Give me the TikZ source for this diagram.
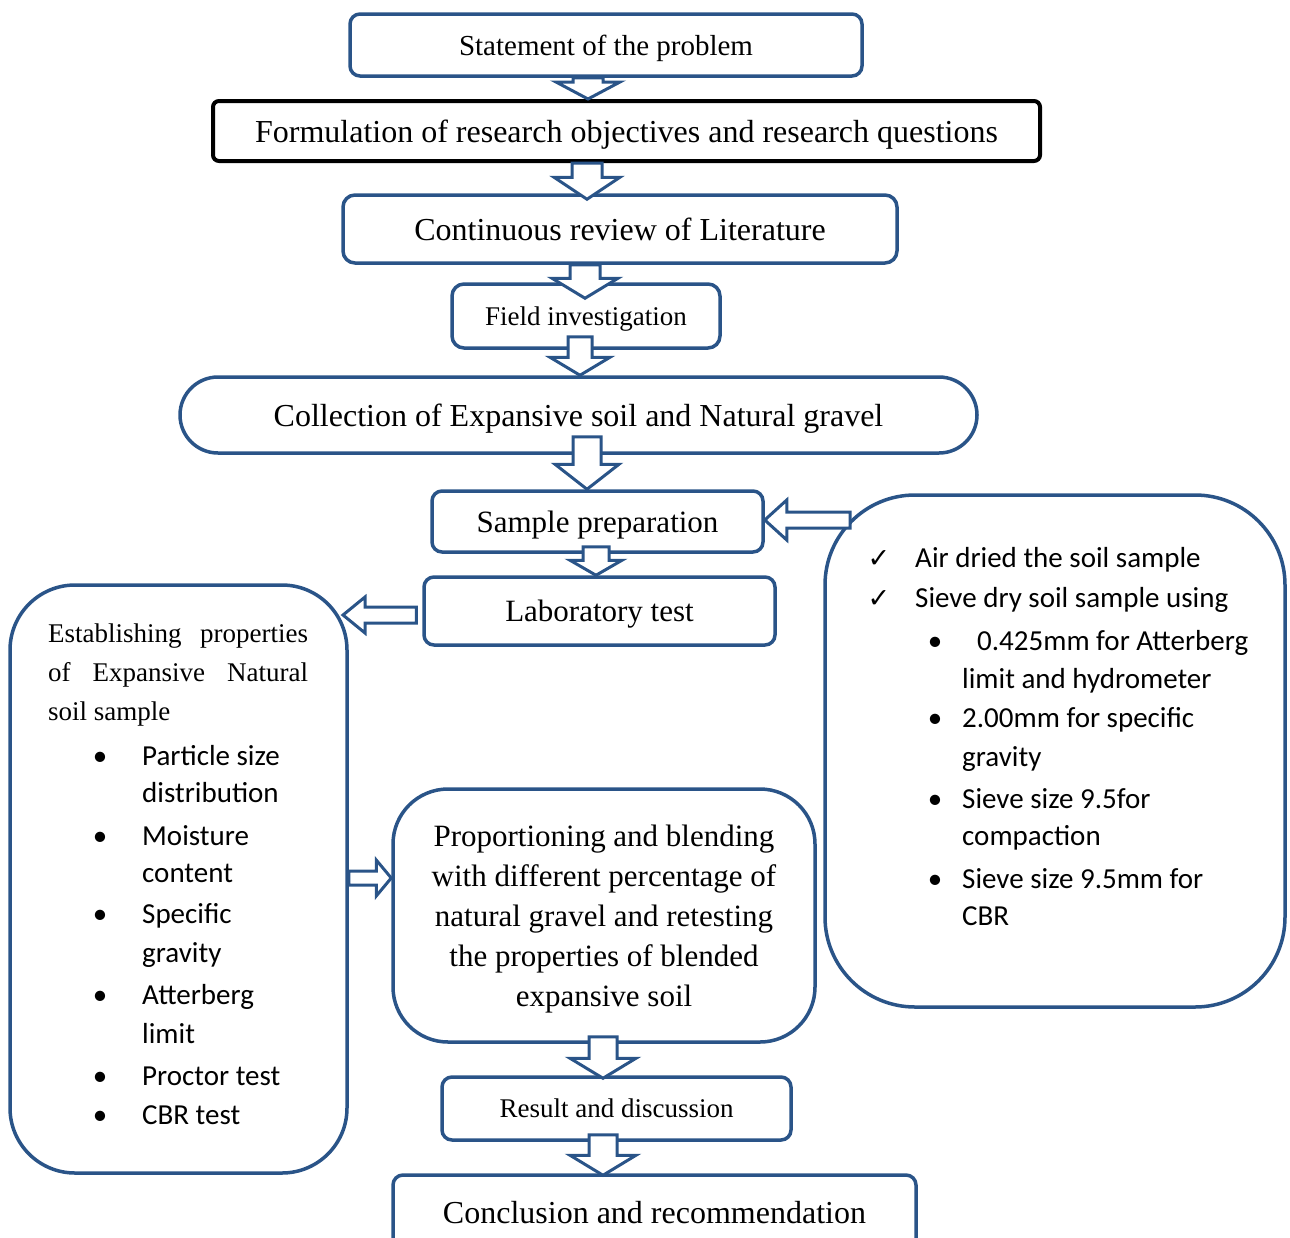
\documentclass[tikz,border=0pt]{standalone}
\usepackage{fontspec}
\setmainfont{Liberation Serif}
\newfontfamily\calib{Carlito}
\newfontfamily\symb{DejaVu Sans}
\usetikzlibrary{calc}
\hyphenpenalty=10000
\setlength\parindent{0pt}
\definecolor{boxblue}{RGB}{42,84,136}
\newcommand{\setfs}[2]{\fontsize{#1}{#2}\selectfont}
\tikzset{
 bluebox/.style={draw=boxblue, line width=3.5pt, rounded corners=10pt, inner sep=0pt, text depth=0pt, fill=white},
 blackbox/.style={draw=black, line width=4pt, rounded corners=6pt, inner sep=0pt, text depth=0pt, fill=white},
 arrowline/.style={draw=boxblue, line width=3pt, fill=white, line join=miter},
 listtxt/.style={anchor=base west, inner sep=0pt, font=\calib\setfs{29}{29}},
 dot/.style={anchor=base, inner sep=0pt, font=\calib\setfs{29}{29}},
 tick/.style={anchor=base, inner sep=0pt, font=\symb\setfs{27}{27}},
}
% hollow block arrow: shaft half width, head half width, head length, start, tip
\newcommand{\hollowarrow}[5]{%
 \coordinate (ha-s) at #4;
 \coordinate (ha-t) at #5;
 \coordinate (ha-b) at ($(ha-t)!#3pt!(ha-s)$);
 \draw[arrowline] ($(ha-s)!#1pt!90:(ha-t)$) -- ($(ha-b)!#1pt!90:(ha-t)$)
  -- ($(ha-b)!#2pt!90:(ha-t)$) -- (ha-t) -- ($(ha-b)!#2pt!-90:(ha-t)$)
  -- ($(ha-b)!#1pt!-90:(ha-t)$) -- ($(ha-s)!#1pt!-90:(ha-t)$) -- cycle;
}
\begin{document}
\begin{tikzpicture}[x=1pt,y=-1pt]
\useasboundingbox (0,0) rectangle (1290,1237);
% main chain
\node[bluebox, minimum width=512pt, minimum height=62pt, font=\setfs{29}{34}] (stmt) at (606,45) {Statement of the problem};
\node[blackbox, minimum width=827pt, minimum height=60pt, font=\setfs{32}{36}] (form) at (626.5,131) {Formulation of research objectives and research questions};
\node[bluebox, rounded corners=12pt, minimum width=554pt, minimum height=68pt, font=\setfs{32}{36}] (review) at (620,229) {Continuous review of Literature};
\node[bluebox, rounded corners=12pt, minimum width=268pt, minimum height=64pt, font=\setfs{27}{32}] (field) at (586,316) {Field investigation};
\node[bluebox, rounded corners=38pt, minimum width=797pt, minimum height=76pt, font=\setfs{32}{36}] (coll) at (578.5,415) {Collection of Expansive soil and Natural gravel};
\node[bluebox, minimum width=331pt, minimum height=61pt, font=\setfs{31}{36}] (prep) at (597.5,521.5) {Sample preparation};
\node[bluebox, minimum width=351pt, minimum height=68pt, font=\setfs{31}{36}] (lab) at (599.5,611) {Laboratory test};
\node[bluebox, rounded corners=55pt, minimum width=422pt, minimum height=253pt, align=center, font=\setfs{31}{40}] (prop) at (604,915.5)
 {Proportioning and blending\\with different percentage of\\natural gravel and retesting\\the properties of blended\\expansive soil};
\node[bluebox, minimum width=349pt, minimum height=63pt, font=\setfs{27}{32}] (result) at (616.5,1108.5) {Result and discussion};
\node[bluebox, minimum width=523pt, minimum height=75pt, font=\setfs{32}{36}] (concl) at (654.5,1212.5) {Conclusion and recommendation};

% left box: properties
\node[bluebox, rounded corners=65pt, minimum width=337pt, minimum height=588pt] (props) at (178.5,879) {};
\node[anchor=north west, text width=260pt, align=justify, inner sep=0pt, font=\setfs{27}{39}] (estab) at (48,624)
 {Establishing properties of Expansive Natural soil sample};
\foreach \yy/\txt in {765/Particle size, 845/Moisture, 923/Specific, 1004/Atterberg, 1085/Proctor test, 1124/CBR test}{
 \node[dot] (lb\yy) at (100,\yy) {•};
 \node[listtxt] (lt\yy) at (142,\yy) {\txt};
}
\foreach \yy/\txt in {802/distribution, 882/content, 962/gravity, 1043/limit}
 \node[listtxt] (lc\yy) at (142,\yy) {\txt};

% right box: preparation steps
\node[bluebox, rounded corners=90pt, minimum width=460pt, minimum height=512pt] (steps) at (1055,751) {};
\node[tick] (tk1) at (879,567) {✓};
\node[listtxt] (st1) at (915,567) {Air dried the soil sample};
\node[tick] (tk2) at (879,607) {✓};
\node[listtxt] (st2) at (915,607) {Sieve dry soil sample using};
\foreach \yy in {650,727,808,888}
 \node[dot] (rb\yy) at (935,\yy) {•};
\node[listtxt] (rt1) at (977,650) {0.425mm for Atterberg};
\foreach \yy/\txt in {688/limit and hydrometer, 727/2.00mm for specific, 766/gravity, 808/Sieve size 9.5for, 845/compaction, 888/Sieve size 9.5mm for, 925/CBR}
 \node[listtxt] (rt\yy) at (962,\yy) {\txt};

% block arrows
\hollowarrow{15}{32}{17}{(588,0 |- stmt.south)}{(588,0 |- form.north)}
\hollowarrow{15}{33}{22}{(587,0 |- form.south)}{($(587,0 |- review.north)+(0,6)$)}
\hollowarrow{15}{33}{20}{(585,0 |- review.south)}{($(585,0 |- field.north)+(0,16)$)}
\hollowarrow{12}{30}{18}{($(580,0 |- field.south)+(0,-13)$)}{(580,0 |- coll.north)}
\hollowarrow{14}{32}{25}{($(587,0 |- coll.south)+(0,-18)$)}{(587,0 |- prep.north)}
\hollowarrow{13}{26}{15}{($(596,0 |- prep.south)+(0,-7)$)}{(596,0 |- lab.north)}
\hollowarrow{8}{18}{22}{($(lab.west |- 0,615)+(-6,0)$)}{(343,615)}
\hollowarrow{8}{20}{22}{(850,520)}{(prep.east |- 0,520)}
\hollowarrow{7}{18}{15}{(props.east |- 0,878)}{(prop.west |- 0,878)}
\hollowarrow{14}{33}{20}{($(603,0 |- prop.south)+(0,-7)$)}{($(603,0 |- result.north)+(0,3)$)}
\hollowarrow{14}{33}{20}{($(603,0 |- result.south)+(0,-7)$)}{($(603,0 |- concl.north)+(0,2)$)}
\end{tikzpicture}
\end{document}
